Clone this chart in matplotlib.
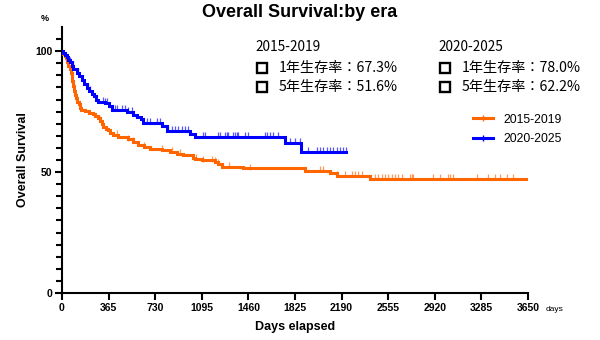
"""
Kaplan-Meier curves: overall survival by treatment era.
"""
import numpy as np
import matplotlib
matplotlib.use("Agg")
import matplotlib.pyplot as plt
from matplotlib.lines import Line2D

plt.rcParams['font.family'] = ['Liberation Sans', 'DejaVu Sans']

ORANGE = "#ff6600"
BLUE = "#0000ff"

# step curves: day of event -> survival (%) right after
era1_days = [0, 5, 10, 20, 30, 40, 50, 60, 70, 76, 82, 89, 95, 102, 110, 120,
             130, 140, 150, 180, 210, 245, 260, 285, 300, 310, 324, 345, 363,
             380, 402, 440, 520, 560, 598, 640, 689, 780, 846, 900, 950, 1028,
             1045, 1100, 1198, 1222, 1253, 1418, 1903, 2099, 2154, 2412]
era1_surv = [100, 99.5, 98.8, 98, 97, 95.5, 94, 92.5, 91, 89.5, 87.5, 85.5,
             83.5, 82, 80.5, 79, 78, 76.5, 75.8, 75.2, 74.6, 74, 73.2, 72.2,
             71, 69.8, 68.8, 68, 67.3, 66.3, 65.3, 64.6, 63.5, 62.3, 61, 60.3,
             59.7, 59, 58.4, 57.6, 57, 56, 55.5, 54.8, 54, 53.2, 52.3, 51.5,
             50.4, 49.5, 48.3, 47.0]
era1_end = 3650
era1_cens = [300, 428, 520, 560, 640, 780, 859, 924, 1047, 1107, 1172, 1198,
             1224, 1308, 1473, 2020, 2047, 2156, 2217, 2269, 2295, 2321, 2348,
             2451, 2475, 2506, 2530, 2553, 2585, 2608, 2631, 2661, 2726, 2739,
             2752, 2908, 2961, 3026, 3039, 3065, 3253, 3339, 3392, 3431, 3483,
             3535]

era2_days = [0, 10, 20, 36, 50, 63, 76, 90, 115, 130, 154, 170, 193, 210, 232,
             250, 270, 285, 337, 365, 389, 507, 560, 585, 620, 637, 783, 822,
             1003, 1042, 1747, 1870]
era2_surv = [100, 99.3, 98.6, 97.5, 96.5, 95.5, 94, 92.8, 90.8, 89.8, 88,
             86.5, 84.6, 83.5, 82.5, 81.3, 80, 79, 78.4, 77.5, 75.6, 74.9,
             73.8, 72.9, 71.8, 70.3, 69.2, 67.2, 65.8, 64.6, 62.0, 58.5]
era2_end = 2224
era2_cens = [63, 89, 128, 206, 219, 324, 337, 350, 415, 428, 467, 493, 520,
             546, 663, 689, 741, 768, 833, 859, 885, 911, 937, 963, 989, 1107,
             1120, 1224, 1238, 1277, 1290, 1303, 1342, 1355, 1368, 1381, 1433,
             1459, 1590, 1603, 1629, 1655, 1694, 1786, 1825, 1864, 1929, 1995,
             2020, 2047, 2073, 2099, 2125, 2151, 2177, 2203, 2224]

labels = ["2015-2019", "2020-2025"]
rate_1y = [67.3, 78.0]
rate_5y = [51.6, 62.2]

x_ticks = [0, 365, 730, 1095, 1460, 1825, 2190, 2555, 2920, 3285, 3650]


def km_step(ax, days, surv, end, cens, color):
    xs = list(days) + [end]
    ys = list(surv) + [surv[-1]]
    ax.step(xs, ys, where='post', color=color, lw=2.2, solid_joinstyle='miter',
            zorder=3)
    # censored patients as small ticks sitting on the curve
    idx = np.searchsorted(days, cens, side='right') - 1
    cy = np.array(surv)[idx] + 0.8
    ax.plot(cens, cy, ls='none', marker='|', ms=5, mew=0.9, color=color,
            alpha=0.65, zorder=3)


fig = plt.figure(figsize=(6, 3.4), dpi=100)
ax = fig.add_axes([0.1033, 0.1382, 0.7767, 0.7824])

km_step(ax, era1_days, era1_surv, era1_end, era1_cens, ORANGE)
km_step(ax, era2_days, era2_surv, era2_end, era2_cens, BLUE)

ax.set_xlim(0, 3650)
ax.set_ylim(0, 110)
ax.set_xticks(x_ticks)
ax.set_yticks([0, 50, 100])
ax.set_yticks(np.arange(5, 110, 5), minor=True)
ax.tick_params(axis='both', which='major', length=5, width=1.5,
               labelsize=7.5, pad=2)
ax.tick_params(axis='y', which='minor', length=4, width=1.5)
for lab in ax.get_xticklabels() + ax.get_yticklabels():
    lab.set_fontweight('bold')

for side in ['top', 'right']:
    ax.spines[side].set_visible(False)
for side in ['left', 'bottom']:
    ax.spines[side].set_linewidth(1.5)
ax.margins(0)

ax.set_xlabel("Days elapsed", fontsize=9, fontweight='bold', labelpad=6)
ax.set_ylabel("Overall Survival", fontsize=9, fontweight='bold', va='center')
ax.yaxis.set_label_coords(-0.084, 0.5)
fig.text(0.5, 0.962, "Overall Survival:by era", ha='center', va='center',
         fontsize=13, fontweight='bold')
fig.text(0.075, 0.945, "%", ha='center', va='center', fontsize=6.5,
         fontweight='bold')
fig.text(0.925, 0.09, "days", ha='center', va='center', fontsize=6)

# 1-year / 5-year survival summary
cjk = ['Noto Sans CJK JP', 'DejaVu Sans']
row_y = [0.862, 0.799, 0.745]
for i, x0 in enumerate([0.425, 0.730]):
    fig.text(x0, row_y[0], labels[i], fontsize=9.8, family=cjk, va='center')
    rows = [f"1年生存率：{rate_1y[i]:.1f}%", f"5年生存率：{rate_5y[i]:.1f}%"]
    for txt, yy in zip(rows, row_y[1:]):
        fig.add_artist(Line2D([x0 + 0.011], [yy], transform=fig.transFigure,
                              marker='s', ms=6.5, mfc='none', mec='black',
                              mew=1.7, ls='none'))
        fig.text(x0 + 0.04, yy, txt, fontsize=10.2, family=cjk, va='center')

handles = [Line2D([], [], color=c, lw=2.2, marker='|', ms=5, mew=1.0)
           for c in [ORANGE, BLUE]]
fig.legend(handles, labels, loc='center left', bbox_to_anchor=(0.77, 0.62),
           frameon=False, fontsize=8.8, handlelength=1.6, handletextpad=0.9,
           labelspacing=0.6)

plt.savefig("out.png", dpi=100)
